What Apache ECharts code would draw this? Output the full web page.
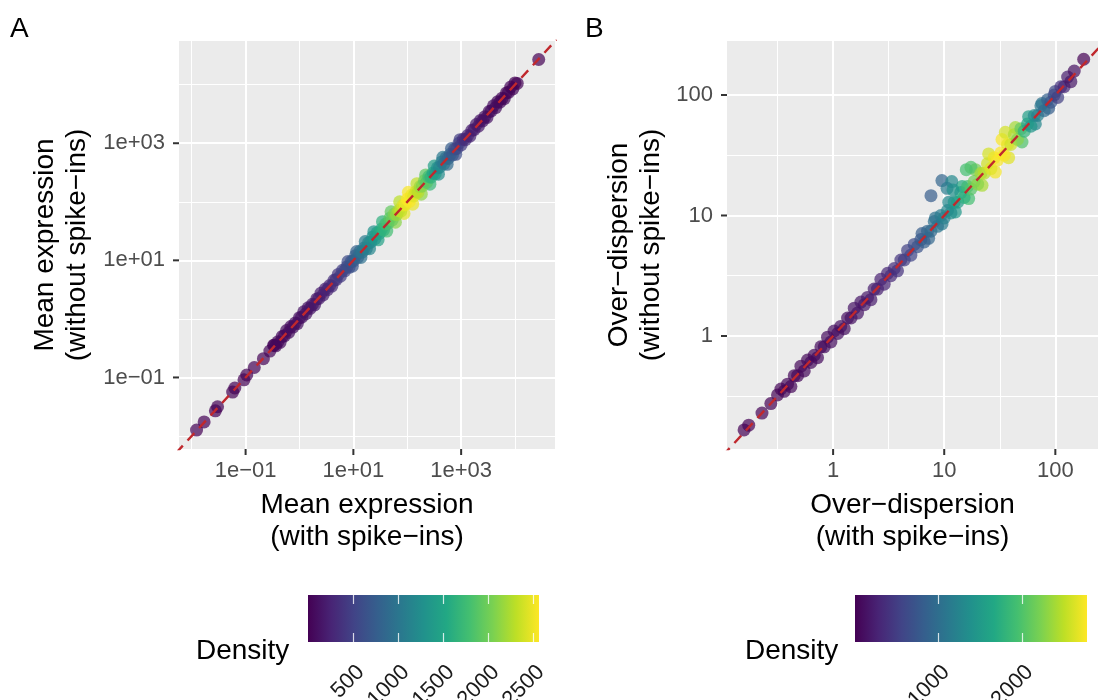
<!DOCTYPE html>
<html>
<head>
<meta charset="utf-8">
<script src="https://cdn.jsdelivr.net/npm/echarts@6/dist/echarts.min.js"></script>
<style>
  html, body { margin: 0; padding: 0; background: #fff; }
  #chart { width: 1098px; height: 700px; }
</style>
</head>
<body>
<div id="chart"></div>
<script>
// A: mean expression with / without spike-ins, coloured by point density
// order: sparse low end, band edges, band centre, lone top point
const meanWith = [0.0123, 0.0170, 0.0275, 0.0302, 0.0575, 0.0631, 0.0933, 0.105, 0.145, 0.214, 0.282, 0.339,
  7.94, 11.5, 16.6, 24.0, 34.7, 50.1, 72.4, 105, 151, 219, 316, 457, 661, 955,
  9.55, 13.8, 20.0, 28.8, 41.7, 60.3, 87.1, 126, 182, 263, 380, 550, 794,
  0.331, 0.363, 0.398, 0.437, 0.479, 0.525, 0.575, 0.631, 0.692, 0.759, 0.832, 0.912,
  1.00, 1.10, 1.20, 1.32, 1.45, 1.58, 1.74, 1.91, 2.09, 2.29, 2.51, 2.75, 3.02, 3.31, 3.63, 3.98, 4.37, 4.79, 5.25, 5.75, 6.31, 6.92, 7.59, 8.32, 9.12,
  10.0, 11.0, 12.0, 13.2, 14.5, 15.8, 17.4, 19.1, 20.9, 22.9, 25.1, 27.5, 30.2, 33.1, 36.3, 39.8, 43.7, 47.9, 52.5, 57.5, 63.1, 69.2, 75.9, 83.2, 91.2,
  100, 110, 120, 132, 145, 158, 174, 191, 209, 229, 251, 275, 302, 331, 363, 398, 437, 479, 525, 575, 631, 692, 759, 832, 912,
  1000, 1100, 1200, 1320, 1450, 1580, 1740, 1910, 2090, 2290, 2510, 2750, 3020, 3310, 3630, 3980, 4370, 4790, 5250, 5750, 6310, 6920, 7590, 8320, 9120,
  10000, 11000,
  27540];
const meanWithout = [0.0126, 0.0174, 0.0269, 0.0316, 0.0562, 0.0661, 0.0912, 0.110, 0.148, 0.209, 0.282, 0.355,
  9.55, 14.1, 20.9, 30.9, 45.7, 67.6, 100, 145, 204, 288, 407, 575, 813, 1150,
  7.94, 11.2, 15.8, 22.4, 31.6, 44.7, 63.1, 91.2, 135, 200, 295, 437, 646,
  0.355, 0.347, 0.407, 0.398, 0.501, 0.513, 0.631, 0.589, 0.741, 0.724, 0.851, 0.832,
  1.05, 1.07, 1.32, 1.23, 1.55, 1.51, 1.78, 1.74, 2.19, 2.24, 2.75, 2.57, 3.24, 3.16, 3.72, 3.63, 4.57, 4.68, 5.75, 5.37, 6.76, 6.61, 7.76, 7.59, 9.55,
  9.77, 12.0, 11.2, 14.1, 13.8, 16.2, 15.8, 20.0, 20.4, 25.1, 23.4, 29.5, 28.8, 33.9, 33.1, 41.7, 42.7, 52.5, 49.0, 61.7, 60.3, 70.8, 69.2, 87.1, 89.1,
  110, 102, 129, 126, 148, 145, 182, 186, 229, 214, 269, 263, 309, 302, 380, 389, 479, 447, 562, 550, 646, 631, 794, 813, 1000,
  933, 1170, 1150, 1350, 1320, 1660, 1700, 2090, 1950, 2450, 2400, 2820, 2750, 3470, 3550, 4370, 4070, 5130, 5010, 5890, 5750, 7240, 7410, 9120, 8510,
  10700, 10500,
  26920];
const meanDensity = [4, 6, 9, 9, 14, 14, 18, 18, 25, 12, 35, 40,
  590, 800, 1070, 1310, 1620, 1940, 2300, 2550, 2330, 1930, 1450, 1040, 740, 460,
  690, 950, 1180, 1460, 1780, 2110, 2470, 2480, 2130, 1700, 1220, 880, 600,
  40, 45, 50, 55, 60, 65, 70, 75, 80, 85, 90, 100,
  105, 110, 120, 125, 135, 140, 150, 160, 170, 180, 195, 210, 230, 250, 275, 300, 330, 360, 390, 430, 470, 510, 560, 610, 660,
  710, 770, 840, 910, 980, 1040, 1100, 1150, 1210, 1280, 1350, 1420, 1500, 1580, 1660, 1740, 1820, 1900, 1980, 2070, 2160, 2260, 2350, 2430, 2500,
  2560, 2550, 2510, 2450, 2370, 2280, 2180, 2080, 1980, 1880, 1760, 1640, 1510, 1390, 1270, 1170, 1080, 1000, 920, 850, 780, 710, 640, 570, 500,
  430, 370, 320, 280, 250, 225, 200, 180, 165, 150, 135, 120, 110, 100, 90, 80, 72, 64, 56, 50, 44, 38, 32, 26, 20,
  15, 12,
  3];

// B: over-dispersion with / without spike-ins
// order: sparse low end, band edges, bumps, band centre, off-line group, lone top point
const dispWith = [0.158, 0.174, 0.229, 0.275, 0.316,
  6.31, 8.32, 11.0, 14.5, 19.1, 25.1, 33.1, 43.7, 57.5, 75.9, 100,
  7.24, 9.55, 12.6, 16.6, 21.9, 28.8, 38.0, 50.1, 66.1, 87.1,
  15.8, 17.4, 35.5,
  0.339, 0.363, 0.389, 0.417, 0.447, 0.479, 0.513, 0.550, 0.589, 0.631, 0.676, 0.724, 0.776, 0.832, 0.891, 0.955,
  1.02, 1.10, 1.17, 1.26, 1.35, 1.45, 1.55, 1.66, 1.78, 1.91, 2.04, 2.19, 2.34, 2.51, 2.69, 2.88, 3.09, 3.31, 3.55, 3.80, 4.07, 4.37, 4.68, 5.01, 5.37, 5.75, 6.17, 6.61, 7.08, 7.59, 8.13, 8.71, 9.33,
  10.0, 10.7, 11.5, 12.3, 13.2, 14.1, 15.1, 16.2, 17.4, 18.6, 20.0, 21.4, 22.9, 24.5, 26.3, 28.2, 30.2, 32.4, 34.7, 37.2, 39.8, 42.7, 45.7, 49.0, 52.5, 56.2, 60.3, 64.6, 69.2, 74.1, 79.4, 85.1, 91.2, 97.7,
  105, 112, 120, 129, 138, 148,
  9.53, 11.7, 7.60, 10.6, 12.0,
  180];
const dispWithout = [0.166, 0.182, 0.229, 0.275, 0.324,
  7.08, 9.55, 12.9, 17.4, 24.0, 32.4, 42.7, 53.7, 66.1, 85.1, 107,
  6.46, 8.51, 10.7, 13.8, 17.8, 22.9, 30.2, 40.7, 57.5, 77.6,
  24.0, 25.1, 49.0,
  0.363, 0.347, 0.398, 0.380, 0.468, 0.468, 0.562, 0.513, 0.631, 0.603, 0.692, 0.661, 0.813, 0.813, 0.977, 0.891,
  1.10, 1.05, 1.20, 1.15, 1.41, 1.41, 1.70, 1.55, 1.91, 1.82, 2.09, 2.00, 2.45, 2.45, 2.95, 2.69, 3.31, 3.16, 3.63, 3.47, 4.27, 4.27, 5.13, 4.68, 5.75, 5.50, 6.31, 6.03, 7.41, 7.41, 8.91, 8.13, 10.0,
  9.55, 11.0, 10.5, 12.9, 12.9, 15.5, 14.1, 17.4, 16.6, 19.1, 18.2, 22.4, 22.4, 26.9, 24.5, 30.2, 28.8, 33.1, 31.6, 38.9, 38.9, 46.8, 42.7, 52.5, 50.1, 57.5, 55.0, 67.6, 67.6, 81.3, 74.1, 91.2, 87.1, 100,
  95.5, 117, 117, 141, 129, 158,
  19.5, 19.1, 14.6, 16.8, 16.3,
  198];
const dispDensity = [5, 8, 12, 10, 20,
  800, 1040, 1290, 1690, 2200, 2600, 2770, 2400, 1550, 1050, 600,
  920, 1160, 1470, 1940, 2420, 2740, 2650, 2000, 1280, 820,
  1950, 2000, 2600,
  25, 28, 30, 33, 36, 40, 44, 48, 52, 56, 60, 65, 70, 75, 80, 85,
  92, 98, 105, 112, 120, 130, 140, 150, 162, 175, 188, 202, 218, 235, 255, 275, 300, 330, 360, 395, 430, 470, 520, 570, 630, 700, 770, 840, 900, 960, 1020, 1080, 1140,
  1200, 1270, 1350, 1440, 1540, 1650, 1770, 1900, 2030, 2160, 2280, 2390, 2490, 2580, 2660, 2720, 2760, 2780, 2760, 2690, 2580, 2440, 2280, 2100, 1800, 1600, 1450, 1320, 1200, 1090, 980, 860, 740, 620,
  500, 400, 300, 220, 160, 110,
  900, 1300, 800, 1150, 1400,
  4];

// axis breaks (real values) and density legend
const meanBreaks = [0.1, 10, 1000];
const meanMinor = [0.01, 1, 100, 10000];
const dispBreaks = [1, 10, 100];
const dispMinor = [0.3162, 3.162, 31.62];
const meanDensityRange = [0, 2565];
const dispDensityRange = [0, 2780];
const meanDensityBreaks = [500, 1000, 1500, 2000, 2500];
const dispDensityBreaks = [1000, 2000];
const identity = [1e-4, 1e6];   // y = x reference line

// panel limits in log10 units
const meanXLim = [-2.236, 4.742], meanYLim = [-2.222, 4.746];
const dispXLim = [-0.955, 2.384], dispYLim = [-0.938, 2.448];

const viridis = ['#440154', '#482475', '#414487', '#355f8d', '#2a788e', '#21918c',
  '#22a884', '#44bf70', '#7ad151', '#bddf26', '#fde725'];
const FONT = 'Liberation Sans, Arial, Helvetica, sans-serif';
const lg = v => Math.log10(v);

function points(xs, ys, ds) {
  return xs.map((x, i) => [lg(x), lg(ys[i]), ds[i]]);
}
function sciLabel(v) {
  const e = Math.round(v);
  return '1e' + (e < 0 ? '\u2212' : '+') + String(Math.abs(e)).padStart(2, '0');
}
function plainLabel(v) {
  return String(Math.round(Math.pow(10, v)));
}

// tick marks are drawn as part of the label (a small dark box next to / above the text)
function majorAxis(gi, lim, breaks, fmt, name, isY, gap) {
  const vals = breaks.map(lg);
  const text = { fontFamily: FONT, fontSize: 22, color: '#4d4d4d', lineHeight: isY ? 24 : 32 };
  return {
    type: 'value', gridIndex: gi, min: lim[0], max: lim[1],
    position: isY ? 'left' : 'bottom',
    name: name, nameLocation: 'middle', nameGap: gap, nameRotate: isY ? 90 : 0,
    nameTextStyle: { fontFamily: FONT, fontSize: 28, color: '#000', lineHeight: 32 },
    axisLine: { show: false, onZero: false },
    axisTick: { show: false, customValues: vals },
    axisLabel: {
      customValues: vals, margin: 0, hideOverlap: false,
      formatter: isY ? v => '{v|' + fmt(v) + '}{s|}{t|}' : v => '{t|}\n{v|' + fmt(v) + '}',
      rich: isY ? {
        v: text,
        s: { width: 8, height: 2, fontSize: 1, lineHeight: 2 },
        t: { width: 6, height: 2, fontSize: 1, lineHeight: 2, backgroundColor: '#333333', verticalAlign: 'middle' }
      } : {
        v: text,
        t: { width: 2, height: 6, fontSize: 1, lineHeight: 6, backgroundColor: '#333333', align: 'center' }
      }
    },
    splitLine: { show: true, lineStyle: { color: '#ffffff', width: 2 } }
  };
}
function minorAxis(gi, lim, minor, isY) {
  return {
    type: 'value', gridIndex: gi, min: lim[0], max: lim[1],
    position: isY ? 'right' : 'top',
    axisLine: { show: false, onZero: false },
    axisTick: { show: false, customValues: minor.map(lg) },
    axisLabel: { show: false, customValues: minor.map(lg) },
    splitLine: { show: true, lineStyle: { color: '#ffffff', width: 1 } }
  };
}
function barAxis(gi, range, breaks, pos) {
  return {
    type: 'value', gridIndex: gi, min: range[0], max: range[1], position: pos, z: 10,
    axisLine: { show: false, onZero: false },
    axisTick: { show: true, inside: true, length: 9, customValues: breaks, lineStyle: { color: '#ffffff', width: 1.2, opacity: 0.8 } },
    axisLabel: {
      show: pos === 'bottom', customValues: breaks, rotate: 45, align: 'right', verticalAlign: 'top',
      hideOverlap: false, formatter: v => String(v), margin: 19,
      fontFamily: FONT, fontSize: 22, color: '#1a1a1a'
    },
    splitLine: { show: false }
  };
}
function hiddenY(gi) {
  return { type: 'value', gridIndex: gi, min: 0, max: 1, show: false };
}
const gradient = {
  type: 'linear', x: 0, y: 0, x2: 1, y2: 0,
  colorStops: viridis.map((c, i) => ({ offset: i / (viridis.length - 1), color: c }))
};

function scatter(xi, yi, data) {
  return {
    type: 'scatter', xAxisIndex: xi, yAxisIndex: yi, data: data,
    symbolSize: 13, itemStyle: { opacity: 0.7 }, silent: true, z: 2
  };
}
function refLine(xi, yi) {
  return {
    type: 'line', xAxisIndex: xi, yAxisIndex: yi, clip: true, silent: true, z: 3,
    data: identity.map(v => [lg(v), lg(v)]), symbol: 'none',
    lineStyle: { color: '#c0282d', width: 2.4, type: [10, 7] }
  };
}
function grid(left, top, width, height, bg) {
  return { left, top, width, height, show: true, backgroundColor: bg, borderWidth: 0, outerBoundsMode: 'none', containLabel: false };
}

const chart = echarts.init(document.getElementById('chart'), null, { renderer: 'canvas' });
chart.setOption({
  animation: false,
  backgroundColor: '#ffffff',
  grid: [
    grid(179, 41, 376, 408, '#ebebeb'),
    grid(727, 41, 371, 408, '#ebebeb'),
    grid(308, 595, 231, 47, gradient),
    grid(855, 595, 232, 47, gradient)
  ],
  xAxis: [
    majorAxis(0, meanXLim, meanBreaks, sciLabel, 'Mean expression\n(with spike\u2212ins)', false, 40),
    minorAxis(0, meanXLim, meanMinor, false),
    majorAxis(1, dispXLim, dispBreaks, plainLabel, 'Over\u2212dispersion\n(with spike\u2212ins)', false, 40),
    minorAxis(1, dispXLim, dispMinor, false),
    barAxis(2, meanDensityRange, meanDensityBreaks, 'bottom'),
    barAxis(2, meanDensityRange, meanDensityBreaks, 'top'),
    barAxis(3, dispDensityRange, dispDensityBreaks, 'bottom'),
    barAxis(3, dispDensityRange, dispDensityBreaks, 'top')
  ],
  yAxis: [
    majorAxis(0, meanYLim, meanBreaks, sciLabel, 'Mean expression\n(without spike\u2212ins)', true, 86),
    minorAxis(0, meanYLim, meanMinor, true),
    majorAxis(1, dispYLim, dispBreaks, plainLabel, 'Over\u2212dispersion\n(without spike\u2212ins)', true, 60),
    minorAxis(1, dispYLim, dispMinor, true),
    hiddenY(2),
    hiddenY(3)
  ],
  visualMap: [
    { type: 'continuous', show: false, seriesIndex: 0, dimension: 2,
      min: meanDensityRange[0], max: meanDensityRange[1], inRange: { color: viridis } },
    { type: 'continuous', show: false, seriesIndex: 2, dimension: 2,
      min: dispDensityRange[0], max: dispDensityRange[1], inRange: { color: viridis } }
  ],
  graphic: [
    { type: 'text', x: 10, y: 29, style: { text: 'A', font: '28px ' + FONT, fill: '#000', verticalAlign: 'middle' } },
    { type: 'text', x: 585, y: 29, style: { text: 'B', font: '28px ' + FONT, fill: '#000', verticalAlign: 'middle' } },
    { type: 'text', x: 196, y: 651, style: { text: 'Density', font: '28px ' + FONT, fill: '#000', verticalAlign: 'middle' } },
    { type: 'text', x: 745, y: 651, style: { text: 'Density', font: '28px ' + FONT, fill: '#000', verticalAlign: 'middle' } }
  ],
  series: [
    scatter(0, 0, points(meanWith, meanWithout, meanDensity)),
    refLine(0, 0),
    scatter(2, 2, points(dispWith, dispWithout, dispDensity)),
    refLine(2, 2)
  ]
});
</script>
</body>
</html>
